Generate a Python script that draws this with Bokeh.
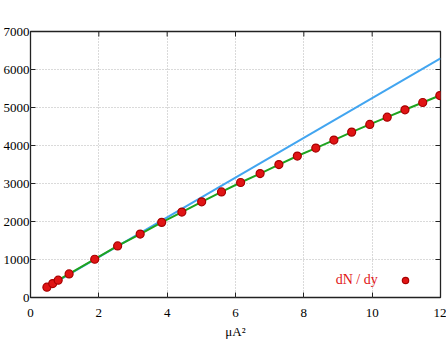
from bokeh.plotting import figure
from bokeh.models import (Range1d, FixedTicker, Label, Legend, LegendItem)
from bokeh.embed import file_html
from bokeh.resources import INLINE

# ---- data ----
mu2 = [0.48, 0.65, 0.81, 1.13, 1.88, 2.55, 3.21, 3.84, 4.43, 5.01, 5.59, 6.15,
       6.72, 7.27, 7.81, 8.35, 8.88, 9.40, 9.93, 10.44, 10.96, 11.48, 11.98]
dndy = [272, 367, 456, 621, 1007, 1356, 1670, 1977, 2247, 2517, 2779, 3026,
        3262, 3498, 3723, 3933, 4143, 4352, 4554, 4746, 4940, 5131, 5315]
lin_x = [0.45, 12.0]
lin_y = [252, 6292]
x_ticks = [0, 2, 4, 6, 8, 10, 12]
y_ticks = [0, 1000, 2000, 3000, 4000, 5000, 6000, 7000]
x_title = "μA²"
legend_text = "dN / dy"

FONT = "Liberation Serif"
FS = "13px"
TICK = "#222222"
RED = "#e01414"

p = figure(width=446, height=341, x_range=Range1d(0, 12), y_range=Range1d(0, 7000),
           output_backend="svg", toolbar_location=None,
           min_border_left=30, min_border_right=6, min_border_top=31, min_border_bottom=43)
p.background_fill_color = "white"
p.border_fill_color = "white"
p.outline_line_color = TICK
p.outline_line_width = 1.3

for ax in p.xaxis:
    ax.ticker = FixedTicker(ticks=x_ticks)
    ax.major_label_standoff = 11
    ax.axis_label = x_title
    ax.axis_label_text_font = FONT
    ax.axis_label_text_font_size = FS
    ax.axis_label_text_font_style = "normal"
    ax.axis_label_text_color = "black"
    ax.axis_label_standoff = 4
for ax in p.yaxis:
    ax.ticker = FixedTicker(ticks=y_ticks)
    ax.major_label_standoff = 1
for ax in p.xaxis + p.yaxis:
    ax.major_tick_in = 5
    ax.major_tick_out = 0
    ax.minor_tick_line_color = None
    ax.axis_line_color = None
    ax.major_tick_line_color = TICK
    ax.major_label_text_font = FONT
    ax.major_label_text_font_size = FS
    ax.major_label_text_color = "black"

# grid
p.xgrid.ticker = FixedTicker(ticks=x_ticks)
p.ygrid.ticker = FixedTicker(ticks=y_ticks)
for g in (p.xgrid, p.ygrid):
    g.grid_line_color = "#b4b4b4"
    g.grid_line_dash = "1 2"
    g.grid_line_width = 1

# mirrored inward ticks on the top and right borders
tl_y = 5 / 267 * 7000
tl_x = 5 / 410 * 12
p.segment(x0=x_ticks, y0=[7000] * len(x_ticks), x1=x_ticks, y1=[7000 - tl_y] * len(x_ticks),
          line_color=TICK, line_width=1)
p.segment(x0=[12] * len(y_ticks), y0=y_ticks, x1=[12 - tl_x] * len(y_ticks), y1=y_ticks,
          line_color=TICK, line_width=1)

# data
p.line(lin_x, lin_y, line_color="#42a5f0", line_width=2)
p.line(mu2, dndy, line_color="#1fa31f", line_width=2)
pts = p.scatter(mu2, dndy, size=8, fill_color=RED, line_color="#a80000",
                line_width=1.2)

# key: text, then its marker
p.add_layout(Label(x=10.16, y=464, text=legend_text, text_font=FONT, text_font_size="14px",
                   text_baseline="middle", text_align="right", text_color=RED))
leg = Legend(items=[LegendItem(label="", renderers=[pts])], location=(367, 9),
             glyph_width=16, glyph_height=16, label_width=0, label_height=16,
             label_standoff=0, padding=0, margin=0, spacing=0,
             background_fill_alpha=0, border_line_alpha=0)
p.add_layout(leg, "center")

open("out.html", "w").write(file_html(p, INLINE))
